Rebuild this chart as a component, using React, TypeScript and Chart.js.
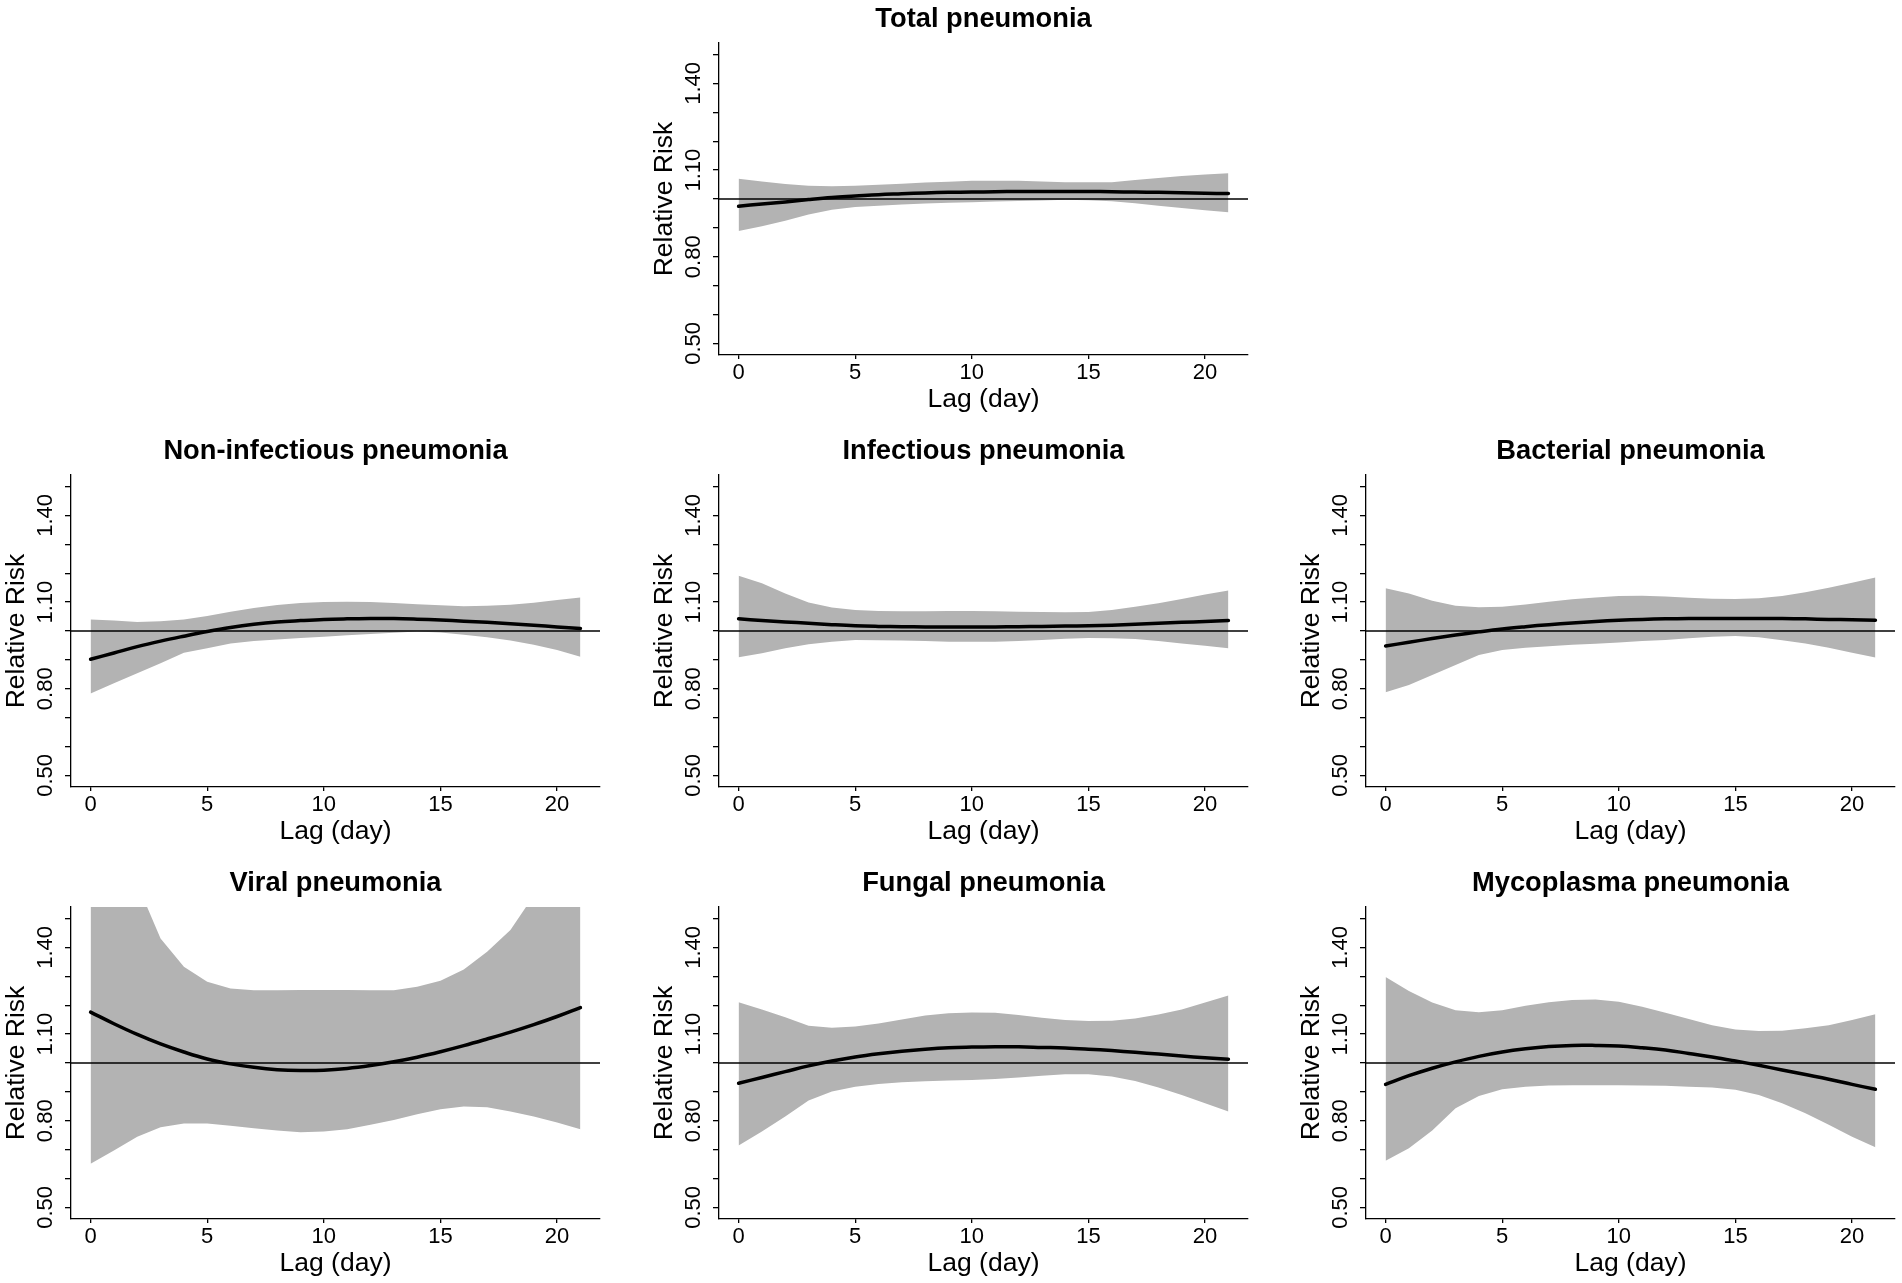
import React, { useEffect, useRef } from 'react';
import { Chart, registerables } from 'chart.js';

Chart.register(...registerables);

// ---------------- data ----------------
const lags = [0, 1, 2, 3, 4, 5, 6, 7, 8, 9, 10, 11, 12, 13, 14, 15, 16, 17, 18, 19, 20, 21];
const xTickValues = [0, 5, 10, 15, 20];
const yTickValues = [0.5, 0.6, 0.7, 0.8, 0.9, 1.0, 1.1, 1.2, 1.3, 1.4, 1.5];
const yLabeledTicks = [0.5, 0.8, 1.1, 1.4];
const referenceRR = 1.0;
const xRange = [-0.84, 21.84];
const yRange = [0.46, 1.54];

const panelTitles = [
  'Total pneumonia',
  'Non-infectious pneumonia',
  'Infectious pneumonia',
  'Bacterial pneumonia',
  'Viral pneumonia',
  'Fungal pneumonia',
  'Mycoplasma pneumonia',
];

const totalRR = [0.975, 0.983, 0.99, 0.998, 1.005, 1.01, 1.015, 1.018, 1.021, 1.023, 1.024, 1.025, 1.026, 1.026, 1.026, 1.026, 1.025, 1.024, 1.023, 1.022, 1.02, 1.019];
const totalHigh = [1.07, 1.061, 1.052, 1.046, 1.044, 1.046, 1.049, 1.053, 1.057, 1.06, 1.063, 1.063, 1.063, 1.061, 1.058, 1.058, 1.058, 1.066, 1.073, 1.08, 1.085, 1.089];
const totalLow = [0.889, 0.906, 0.925, 0.946, 0.963, 0.972, 0.977, 0.981, 0.984, 0.987, 0.989, 0.991, 0.993, 0.995, 0.997, 0.996, 0.992, 0.985, 0.977, 0.969, 0.961, 0.954];

const nonInfRR = [0.902, 0.924, 0.946, 0.965, 0.982, 0.998, 1.012, 1.023, 1.031, 1.036, 1.04, 1.042, 1.043, 1.043, 1.041, 1.038, 1.034, 1.03, 1.025, 1.02, 1.014, 1.009];
const nonInfHigh = [1.04, 1.036, 1.031, 1.034, 1.04, 1.052, 1.067, 1.08, 1.09, 1.097, 1.1, 1.101, 1.1, 1.097, 1.093, 1.089, 1.086, 1.087, 1.091, 1.098, 1.107, 1.116];
const nonInfLow = [0.784, 0.819, 0.854, 0.888, 0.925, 0.94, 0.957, 0.965, 0.971, 0.976, 0.98, 0.985, 0.99, 0.994, 0.998, 0.995, 0.987, 0.978, 0.967, 0.952, 0.934, 0.911];

const infRR = [1.042, 1.036, 1.031, 1.027, 1.022, 1.018, 1.016, 1.015, 1.014, 1.014, 1.014, 1.014, 1.015, 1.016, 1.017, 1.018, 1.02, 1.023, 1.027, 1.03, 1.033, 1.036];
const infHigh = [1.191, 1.165, 1.13, 1.099, 1.081, 1.073, 1.069, 1.068, 1.068, 1.069, 1.069, 1.068, 1.067, 1.066, 1.065, 1.066, 1.073, 1.084, 1.096, 1.111, 1.126, 1.14];
const infLow = [0.909, 0.923, 0.94, 0.954, 0.963, 0.969, 0.968, 0.967, 0.965, 0.963, 0.963, 0.963, 0.965, 0.969, 0.973, 0.976, 0.975, 0.972, 0.965, 0.957, 0.949, 0.94];

const bactRR = [0.948, 0.961, 0.974, 0.986, 0.997, 1.007, 1.015, 1.022, 1.028, 1.033, 1.037, 1.04, 1.042, 1.043, 1.043, 1.043, 1.043, 1.043, 1.042, 1.04, 1.039, 1.037];
const bactHigh = [1.148, 1.13, 1.105, 1.087, 1.082, 1.084, 1.092, 1.101, 1.11, 1.116, 1.121, 1.122, 1.119, 1.115, 1.112, 1.111, 1.113, 1.121, 1.134, 1.15, 1.167, 1.185];
const bactLow = [0.788, 0.813, 0.848, 0.882, 0.917, 0.934, 0.942, 0.947, 0.952, 0.956, 0.96, 0.965, 0.969, 0.975, 0.98, 0.983, 0.978, 0.968, 0.957, 0.942, 0.925, 0.908];

const viralRR = [1.176, 1.136, 1.099, 1.066, 1.038, 1.014, 0.997, 0.985, 0.977, 0.974, 0.975, 0.981, 0.991, 1.004, 1.02, 1.039, 1.06, 1.083, 1.107, 1.133, 1.161, 1.192];
const viralHigh = [2.3, 1.95, 1.62, 1.431, 1.333, 1.281, 1.258, 1.252, 1.252, 1.253, 1.253, 1.253, 1.252, 1.252, 1.264, 1.285, 1.324, 1.385, 1.46, 1.58, 1.75, 1.95];
const viralLow = [0.651, 0.697, 0.745, 0.778, 0.791, 0.791, 0.783, 0.774, 0.766, 0.76, 0.763, 0.771, 0.786, 0.803, 0.823, 0.84, 0.849, 0.847, 0.832, 0.815, 0.794, 0.771];

const fungalRR = [0.93, 0.95, 0.97, 0.99, 1.007, 1.021, 1.032, 1.041, 1.048, 1.053, 1.055, 1.056, 1.056, 1.054, 1.052, 1.048, 1.043, 1.037, 1.031, 1.024, 1.018, 1.013];
const fungalHigh = [1.21, 1.185, 1.158, 1.129, 1.122, 1.126, 1.137, 1.151, 1.164, 1.172, 1.175, 1.174, 1.166, 1.157, 1.149, 1.145, 1.146, 1.154, 1.168, 1.185, 1.209, 1.234];
const fungalLow = [0.714, 0.763, 0.815, 0.87, 0.901, 0.918, 0.927, 0.933, 0.937, 0.939, 0.941, 0.945, 0.95, 0.956, 0.961, 0.961, 0.953, 0.938, 0.915, 0.889, 0.861, 0.832];

const mycoRR = [0.926, 0.956, 0.982, 1.004, 1.023, 1.038, 1.049, 1.057, 1.061, 1.061, 1.059, 1.053, 1.045, 1.033, 1.021, 1.007, 0.992, 0.976, 0.96, 0.944, 0.926, 0.909];
const mycoHigh = [1.298, 1.249, 1.209, 1.183, 1.176, 1.183, 1.198, 1.21, 1.218, 1.22, 1.212, 1.195, 1.174, 1.152, 1.131, 1.116, 1.111, 1.112, 1.12, 1.131, 1.149, 1.169];
const mycoLow = [0.662, 0.705, 0.766, 0.843, 0.886, 0.909, 0.918, 0.922, 0.923, 0.923, 0.923, 0.922, 0.921, 0.918, 0.915, 0.907, 0.889, 0.861, 0.826, 0.786, 0.745, 0.708];

const panelSeries = [
  { rr: totalRR, low: totalLow, high: totalHigh },
  { rr: nonInfRR, low: nonInfLow, high: nonInfHigh },
  { rr: infRR, low: infLow, high: infHigh },
  { rr: bactRR, low: bactLow, high: bactHigh },
  { rr: viralRR, low: viralLow, high: viralHigh },
  { rr: fungalRR, low: fungalLow, high: fungalHigh },
  { rr: mycoRR, low: mycoLow, high: mycoHigh },
];

// ---------------- layout ----------------
const colAxisLeft = [71, 719, 1366];
const rowPlotTop = [43, 475, 907];
const panelSlots = [
  { row: 0, col: 1 },
  { row: 1, col: 0 },
  { row: 1, col: 1 },
  { row: 1, col: 2 },
  { row: 2, col: 0 },
  { row: 2, col: 1 },
  { row: 2, col: 2 },
];

const Y_SCALE_W = 70;
const PLOT_W = 529;
const PLOT_H = 312;
const PAD_R = 6;
const TITLE_H = 43;
const TITLE_LH = 38;
const X_SCALE_H = 64;
const CANVAS_W = Y_SCALE_W + PLOT_W + PAD_R;
const CANVAS_H = TITLE_H + PLOT_H + X_SCALE_H;

const FONT = "'Liberation Sans', Arial, Helvetica, sans-serif";
const BAND = '#b3b3b3';
const AXIS_W = 1.3;

function toPoints(values: number[]) {
  return lags.map((x, i) => ({ x, y: values[i] }));
}

function buildConfig(title: string, s: { rr: number[]; low: number[]; high: number[] }): any {
  return {
    type: 'line',
    data: {
      datasets: [
        {
          data: toPoints(s.rr),
          borderColor: '#000',
          borderWidth: 3.5,
          borderCapStyle: 'round',
          borderJoinStyle: 'round',
          pointRadius: 0,
          tension: 0.4,
          fill: false,
          order: 0,
        },
        {
          data: [
            { x: xRange[0], y: referenceRR },
            { x: xRange[1], y: referenceRR },
          ],
          borderColor: '#000',
          borderWidth: 1.3,
          pointRadius: 0,
          fill: false,
          order: 1,
        },
        {
          data: toPoints(s.high),
          borderColor: 'rgba(0,0,0,0)',
          borderWidth: 0,
          backgroundColor: BAND,
          pointRadius: 0,
          tension: 0,
          fill: '+1',
          order: 2,
        },
        {
          data: toPoints(s.low),
          borderColor: 'rgba(0,0,0,0)',
          borderWidth: 0,
          pointRadius: 0,
          tension: 0,
          fill: false,
          order: 3,
        },
      ],
    },
    options: {
      animation: false,
      responsive: false,
      maintainAspectRatio: false,
      events: [],
      layout: { padding: { left: 0, right: PAD_R, top: 0, bottom: 0 } },
      plugins: {
        legend: { display: false },
        tooltip: { enabled: false },
        title: {
          display: true,
          text: title,
          color: '#000',
          fullSize: false,
          align: 'center',
          font: { family: FONT, size: 27.3, weight: 'bold', lineHeight: TITLE_LH + 'px' },
          padding: { top: 0, bottom: TITLE_H - TITLE_LH },
        },
      },
      scales: {
        x: {
          type: 'linear',
          min: xRange[0],
          max: xRange[1],
          afterBuildTicks: (scale: any) => {
            scale.ticks = xTickValues.map((v) => ({ value: v }));
          },
          afterFit: (scale: any) => {
            scale.height = X_SCALE_H;
          },
          ticks: {
            autoSkip: false,
            minRotation: 0,
            maxRotation: 0,
            padding: 1,
            color: '#000',
            font: { family: FONT, size: 22, lineHeight: '26px' },
            callback: (v: number) => String(v),
          },
          grid: {
            display: true,
            drawOnChartArea: false,
            drawTicks: true,
            tickLength: 4,
            color: '#000',
            lineWidth: AXIS_W,
          },
          border: { display: true, color: '#000', width: AXIS_W },
          title: {
            display: true,
            text: 'Lag (day)',
            color: '#000',
            font: { family: FONT, size: 26.5, lineHeight: '32px' },
            padding: { top: 0, bottom: 3 },
          },
        },
        y: {
          type: 'linear',
          min: yRange[0],
          max: yRange[1],
          afterBuildTicks: (scale: any) => {
            scale.ticks = yTickValues.map((v) => ({ value: v }));
          },
          afterFit: (scale: any) => {
            scale.width = Y_SCALE_W;
          },
          ticks: {
            autoSkip: false,
            minRotation: 90,
            maxRotation: 90,
            crossAlign: 'center',
            padding: -2,
            color: '#000',
            font: { family: FONT, size: 22, lineHeight: '26px' },
            callback: (v: number) =>
              yLabeledTicks.some((l) => Math.abs(l - v) < 1e-9) ? v.toFixed(2) : '',
          },
          grid: {
            display: true,
            drawOnChartArea: false,
            drawTicks: true,
            tickLength: 6,
            color: '#000',
            lineWidth: AXIS_W,
          },
          border: { display: true, color: '#000', width: AXIS_W },
          title: {
            display: true,
            text: 'Relative Risk',
            color: '#000',
            font: { family: FONT, size: 26.5, lineHeight: '32px' },
            padding: { top: 0, bottom: 0 },
          },
        },
      },
    },
  };
}

function Panel({ index }: { index: number }) {
  const ref = useRef<HTMLCanvasElement | null>(null);
  const slot = panelSlots[index];
  const left = colAxisLeft[slot.col] - Y_SCALE_W;
  const top = rowPlotTop[slot.row] - TITLE_H;
  useEffect(() => {
    if (!ref.current) return;
    const chart = new Chart(ref.current, buildConfig(panelTitles[index], panelSeries[index]));
    return () => chart.destroy();
  }, [index]);
  return (
    <canvas
      ref={ref}
      width={CANVAS_W}
      height={CANVAS_H}
      style={{ position: 'absolute', left, top, width: CANVAS_W, height: CANVAS_H, display: 'block' }}
    />
  );
}

export default function App() {
  return (
    <div
      style={{
        position: 'absolute',
        left: 0,
        top: 0,
        width: 1902,
        height: 1283,
        background: '#fff',
        overflow: 'hidden',
      }}
    >
      {panelTitles.map((_, i) => (
        <Panel key={i} index={i} />
      ))}
    </div>
  );
}
